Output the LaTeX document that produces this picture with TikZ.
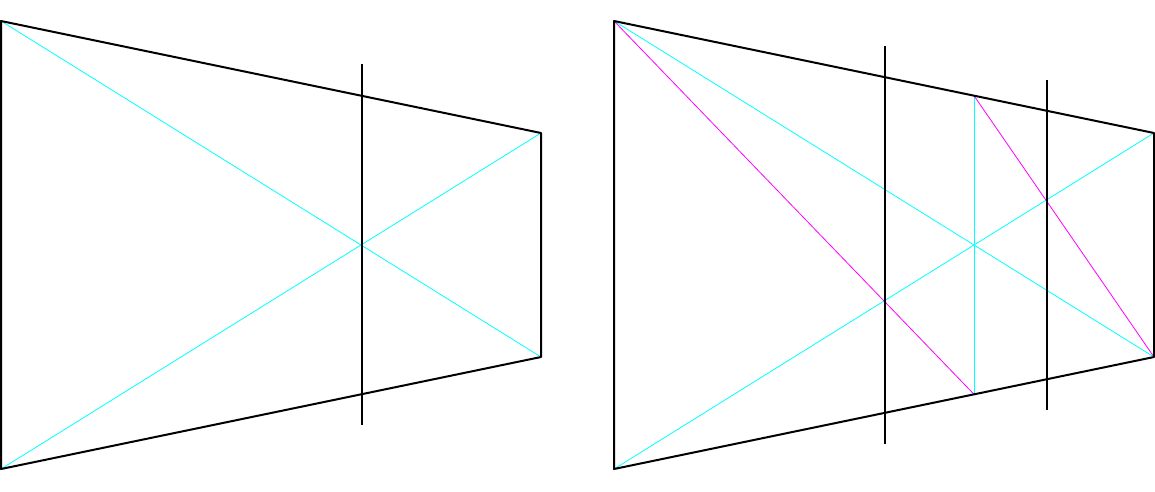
\documentclass[tikz,border=0pt]{standalone}
\usetikzlibrary{calc}
\definecolor{guidecyan}{RGB}{0,255,255}
\definecolor{auxmag}{RGB}{255,0,255}
\begin{document}
\begin{tikzpicture}[x=1pt,y=-1pt,
  edge/.style={draw=black,line width=2pt},
  guide/.style={draw=guidecyan,line width=0.8pt},
  aux/.style={draw=auxmag,line width=0.8pt},
  post/.style={draw=black,line width=2pt}]
\useasboundingbox (0,0) rectangle (1155,491);
% left trapezoid
\coordinate (A1) at (1,21);
\coordinate (B1) at (541,133);
\coordinate (C1) at (541,357);
\coordinate (D1) at (1,469);
\coordinate (P1t) at (362,64);
\coordinate (P1b) at (362,425);
\draw[guide] (A1) -- (C1);
\draw[guide] (D1) -- (B1);
\draw[edge,line join=round] (A1) -- (B1) -- (C1) -- (D1) -- cycle;
\draw[post] (P1t) -- (P1b);
% right trapezoid
\coordinate (A2) at (614,21);
\coordinate (B2) at (1154,133);
\coordinate (C2) at (1154,357);
\coordinate (D2) at (614,469);
\coordinate (M2t) at (974,95.7);
\coordinate (M2b) at (974,394.3);
\coordinate (P2t) at (885,46);
\coordinate (P2b) at (885,444);
\coordinate (P3t) at (1047,80);
\coordinate (P3b) at (1047,410);
\draw[guide] (A2) -- (C2);
\draw[guide] (D2) -- (B2);
\draw[guide] (M2t) -- (M2b);
\draw[aux] (A2) -- (M2b);
\draw[aux] (M2t) -- (C2);
\draw[edge,line join=round] (A2) -- (B2) -- (C2) -- (D2) -- cycle;
\draw[post] (P2t) -- (P2b);
\draw[post] (P3t) -- (P3b);
\end{tikzpicture}
\end{document}
